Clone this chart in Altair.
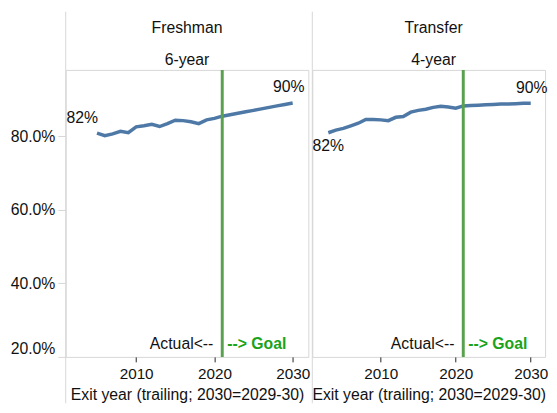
import altair as alt
import pandas as pd

# ---- data ----
fresh_years = list(range(2005, 2031))
fresh_values = [0.809, 0.802, 0.807, 0.814, 0.810, 0.826, 0.829, 0.833, 0.827,
                0.835, 0.844, 0.843, 0.840, 0.835, 0.845, 0.849, 0.855,
                0.859, 0.863, 0.867, 0.871, 0.875, 0.879, 0.883, 0.887, 0.891]
transfer_years = list(range(2003, 2031))
transfer_values = [0.810, 0.817, 0.822, 0.829, 0.836, 0.846, 0.846, 0.845, 0.843,
                   0.852, 0.854, 0.866, 0.871, 0.874, 0.879, 0.882, 0.880, 0.877,
                   0.883, 0.884, 0.885, 0.886, 0.887, 0.888, 0.888, 0.889, 0.890,
                   0.890]
header_top = ["Freshman", "Transfer"]
header_sub = ["6-year", "4-year"]
start_labels = ["82%", "82%"]
end_labels = ["90%", "90%"]
goal_year = 2021
y_ticks = [0.2, 0.4, 0.6, 0.8]
x_ticks = [2010, 2020, 2030]
x_title = "Exit year (trailing; 2030=2029-30)"

FONT = "Liberation Sans"
H = 291
TOP = 59
BOT = 47
GRAY = "#d6d6d6"
INK = "#111"


def make_df(i, yrs, vals):
    rows = []
    for k, (yr, v) in enumerate(zip(yrs, vals)):
        pos = "start" if k == 0 else ("end" if k == len(yrs) - 1 else "")
        lab = start_labels[i] if pos == "start" else (end_labels[i] if pos == "end" else "")
        rows.append({"year": yr, "value": v, "label": lab, "pos": pos,
                     "h1": header_top[i], "h2": header_sub[i]})
    return pd.DataFrame(rows)


def panel(i, yrs, vals, show_y, width, x_domain, start_off, end_off):
    df = make_df(i, yrs, vals)
    base = alt.Chart(df)
    x_enc = alt.X("year:Q", scale=alt.Scale(domain=x_domain, nice=False, zero=False),
                  axis=alt.Axis(values=x_ticks, format="d", title=x_title))
    y_axis = alt.Axis(values=y_ticks, format=".1%", title=None) if show_y else None
    y_enc = alt.Y("value:Q", scale=alt.Scale(domain=[0.2, 0.981], nice=False, zero=False),
                  axis=y_axis)
    one = alt.datum.year == goal_year

    line = base.mark_line(color="#4e79a7", strokeWidth=3.5).encode(x=x_enc, y=y_enc)

    border = base.mark_rule(color=GRAY, strokeWidth=1).encode(
        x=alt.value(0), y=alt.value(-TOP), y2=alt.value(H + BOT)
    ).transform_filter(one)

    goal_rule = base.mark_rule(color="#59a14f", strokeWidth=3).encode(
        x="year:Q"
    ).transform_filter(one)

    actual_txt = base.mark_text(align="right", dx=-9, fontSize=16, font=FONT, color=INK).encode(
        x="year:Q", y=alt.value(H - 13), text=alt.value("Actual<--")
    ).transform_filter(one)

    goal_txt = base.mark_text(align="left", dx=5, fontSize=16, font=FONT, fontWeight="bold",
                              color="#1aa31a").encode(
        x="year:Q", y=alt.value(H - 13), text=alt.value("--> Goal")
    ).transform_filter(one)

    h1 = base.mark_text(fontSize=16, font=FONT, color=INK).encode(
        x=alt.value(123), y=alt.value(-42), text="h1:N"
    ).transform_filter(one)
    h2 = base.mark_text(fontSize=16, font=FONT, color=INK).encode(
        x=alt.value(123), y=alt.value(-10), text="h2:N"
    ).transform_filter(one)

    lab_start = base.mark_text(dx=start_off[0], dy=start_off[1], fontSize=16, font=FONT,
                               color=INK).encode(
        x="year:Q", y="value:Q", text="label:N"
    ).transform_filter(alt.datum.pos == "start")

    lab_end = base.mark_text(dx=end_off[0], dy=end_off[1], fontSize=16, font=FONT,
                             color=INK).encode(
        x="year:Q", y="value:Q", text="label:N"
    ).transform_filter(alt.datum.pos == "end")

    return alt.layer(line, border, goal_rule, actual_txt, goal_txt, h1, h2,
                     lab_start, lab_end).properties(width=width, height=H)


left = panel(0, fresh_years, fresh_values, True, 246, [2001, 2032], (-15, -15), (-4, -16))
right = panel(1, transfer_years, transfer_values, False, 236, [2000.86, 2031.91],
              (0, 14), (1, -16))

chart = alt.hconcat(left, right, spacing=0).properties(
    padding={"left": 1.5, "top": 0, "right": 0, "bottom": 0}
).configure(font=FONT).configure_view(
    stroke=GRAY, strokeWidth=1
).configure_axisY(
    labelFontSize=16, labelColor=INK, tickColor=GRAY, tickSize=8,
    domain=False, grid=False, labelFlush=True, labelPadding=3
).configure_axisX(
    labelFontSize=15.5, labelColor=INK, tickColor="#222", tickSize=5,
    domain=False, grid=False, labelPadding=5, titleFontSize=16,
    titleFontWeight="normal", titleColor=INK, titlePadding=5
)

chart.save("out.html", embed_options={"renderer": "svg", "actions": False})
